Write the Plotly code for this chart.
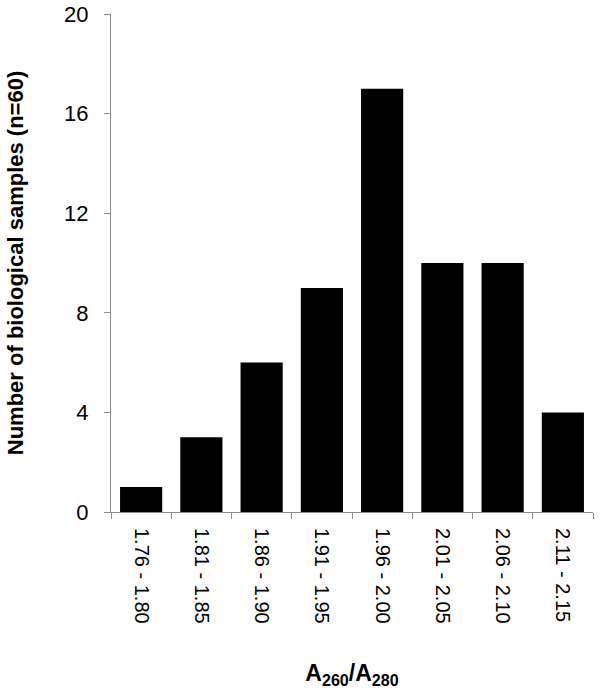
import plotly.graph_objects as go

ranges = ["1.76 - 1.80", "1.81 - 1.85", "1.86 - 1.90", "1.91 - 1.95",
          "1.96 - 2.00", "2.01 - 2.05", "2.06 - 2.10", "2.11 - 2.15"]
counts = [1, 3, 6, 9, 17, 10, 10, 4]
y_ticks = [0, 4, 8, 12, 16, 20]

font_name = "Arial, Liberation Sans, sans-serif"
axis_grey = "#8c8c8c"

fig = go.Figure(go.Bar(x=ranges, y=counts, marker=dict(color="black", line=dict(width=0))))

fig.update_layout(
    width=602, height=694,
    margin=dict(l=111, r=9, t=14, b=182),
    plot_bgcolor="white", paper_bgcolor="white",
    bargap=0.3,
    showlegend=False,
    font=dict(family=font_name, color="black", size=18),
)

fig.update_xaxes(
    type="category",
    automargin=False,
    tickangle=90,
    tickson="boundaries",
    ticks="outside", ticklen=6, tickcolor=axis_grey,
    ticklabelstandoff=11,
    showline=True, linecolor=axis_grey, linewidth=1,
    tickfont=dict(size=20),
    title=dict(text="<b>A<sub>260</sub>/A<sub>280</sub></b>", font=dict(size=23), standoff=42),
)

fig.update_yaxes(
    automargin=False,
    range=[0, 20],
    tickvals=y_ticks,
    ticks="outside", ticklen=6, tickcolor=axis_grey,
    ticklabelstandoff=11,
    showline=True, linecolor=axis_grey, linewidth=1,
    showgrid=False, zeroline=False,
    tickfont=dict(size=22),
    title=dict(text="<b>Number of biological samples (n=60)</b>", font=dict(size=22), standoff=34),
)

# drop the page's default body margin so the figure sits at 0,0
fig.write_html("out.html", config={"displayModeBar": False},
               post_script="document.body.style.margin='0';")
